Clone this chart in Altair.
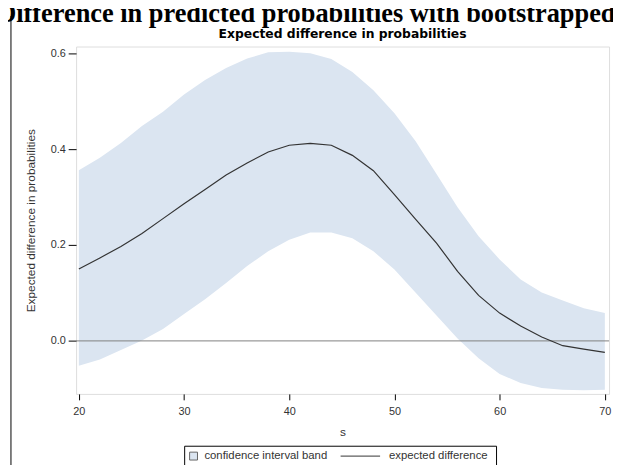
import altair as alt
import pandas as pd

# ---- data ----
s_vals = [20, 22, 24, 26, 28, 30, 32, 34, 36, 38, 40, 42, 44, 46, 48, 50,
          52, 54, 56, 58, 60, 62, 64, 66, 68, 70]
expected = [0.150, 0.173, 0.197, 0.224, 0.255, 0.286, 0.316, 0.346, 0.371, 0.394,
            0.408, 0.412, 0.408, 0.387, 0.355, 0.305, 0.254, 0.204, 0.145, 0.095,
            0.058, 0.031, 0.008, -0.010, -0.017, -0.024]
upper = [0.356, 0.382, 0.413, 0.448, 0.478, 0.514, 0.544, 0.569, 0.589, 0.602,
         0.603, 0.600, 0.588, 0.561, 0.523, 0.475, 0.417, 0.348, 0.279, 0.218,
         0.170, 0.128, 0.101, 0.084, 0.068, 0.058]
lower = [-0.052, -0.039, -0.019, 0.001, 0.025, 0.056, 0.087, 0.121, 0.156, 0.187,
         0.211, 0.226, 0.226, 0.214, 0.187, 0.149, 0.101, 0.053, 0.005, -0.036,
         -0.069, -0.088, -0.098, -0.102, -0.103, -0.102]
x_ticks = [20, 30, 40, 50, 60, 70]
y_ticks = [0.0, 0.2, 0.4, 0.6]

main_title = "Difference in predicted probabilities with bootstrapped"
sub_title = "Expected difference in probabilities"
y_title = "Expected difference in probabilities"
x_title = "s"
legend_labels = ["confidence interval band", "expected difference"]

BAND = "#dbe5f1"
LINE = "#333333"
SANS = "Liberation Sans"

df = pd.DataFrame({"s": s_vals, "est": expected, "lo": lower, "hi": upper})
one = pd.DataFrame({"k": [0]})

W, H = 540, 352

xscale = alt.Scale(domain=[19.74, 70.4], nice=False, zero=False)
yscale = alt.Scale(domain=[-0.1106, 0.614], nice=False, zero=False)

xaxis = alt.Axis(values=x_ticks, format="d", title=x_title, grid=False, domain=False,
                 tickSize=6, tickColor="#000", labelPadding=6, labelFontSize=11,
                 labelColor="#333", labelFont=SANS, titleFont=SANS, titleFontSize=12,
                 titleFontWeight="normal", titleColor="#333", titleY=42,
                 titleBaseline="alphabetic")
yaxis = alt.Axis(values=y_ticks, format=".1f", title=y_title, grid=False, domain=False,
                 tickSize=8, tickColor="#000", labelPadding=3, labelFontSize=11,
                 labelColor="#333", labelFont=SANS, titleFont=SANS, titleFontSize=12,
                 titleFontWeight="normal", titleColor="#333", titleX=-46, titleY=H / 2,
                 titleAngle=270, titleAlign="center", titleBaseline="middle")

band = alt.Chart(df).mark_area(color=BAND, opacity=1).encode(
    x=alt.X("s:Q", scale=xscale, axis=xaxis),
    y=alt.Y("lo:Q", scale=yscale, axis=yaxis),
    y2="hi:Q",
)

zero = alt.Chart(pd.DataFrame({"y": [0.0]})).mark_rule(color="#808080", strokeWidth=1).encode(
    y=alt.Y("y:Q", scale=yscale)
)

line = alt.Chart(df).mark_line(color=LINE, strokeWidth=1.2).encode(
    x=alt.X("s:Q", scale=xscale),
    y=alt.Y("est:Q", scale=yscale),
)

# titles
t_main = alt.Chart(one).mark_text(
    text=main_title, font="Liberation Serif", fontWeight="bold", fontSize=26.7,
    align="left", baseline="alphabetic", color="#000"
).encode(x=alt.value(-80), y=alt.value(-25))

t_sub = alt.Chart(one).mark_text(
    text=sub_title, font="DejaVu Sans", fontWeight="bold", fontSize=12.5,
    align="center", baseline="alphabetic", color="#000"
).encode(x=alt.value(W / 2), y=alt.value(-9))

# outer left border line
border = alt.Chart(one).mark_rule(color="#000", strokeWidth=1).encode(
    x=alt.value(-66), y=alt.value(-31), y2=alt.value(440)
)

# legend (drawn manually)
leg_box = alt.Chart(one).mark_rect(fill="white", stroke="#000", strokeWidth=1).encode(
    x=alt.value(110), x2=alt.value(426), y=alt.value(405), y2=alt.value(440)
)
leg_sw = alt.Chart(one).mark_rect(fill=BAND, stroke="#666", strokeWidth=1).encode(
    x=alt.value(115), x2=alt.value(123), y=alt.value(411), y2=alt.value(419)
)
leg_t1 = alt.Chart(one).mark_text(
    text=legend_labels[0], font=SANS, fontSize=11.5, align="left", baseline="middle", color="#333"
).encode(x=alt.value(130), y=alt.value(415))
leg_ln = alt.Chart(one).mark_rule(color=LINE, strokeWidth=1).encode(
    x=alt.value(268), x2=alt.value(308), y=alt.value(415)
)
leg_t2 = alt.Chart(one).mark_text(
    text=legend_labels[1], font=SANS, fontSize=11.5, align="left", baseline="middle", color="#333"
).encode(x=alt.value(317), y=alt.value(415))

chart = alt.layer(
    band, zero, line, t_main, t_sub, border, leg_box, leg_sw, leg_t1, leg_ln, leg_t2
).properties(
    width=W, height=H,
    autosize=alt.AutoSizeParams(type="none"),
    padding={"left": 69, "top": 36, "right": 4, "bottom": 69},
).configure_view(
    stroke="#000", strokeWidth=1
).configure(background="white")

chart.save("out.html", embed_options={"renderer": "svg", "actions": False})
